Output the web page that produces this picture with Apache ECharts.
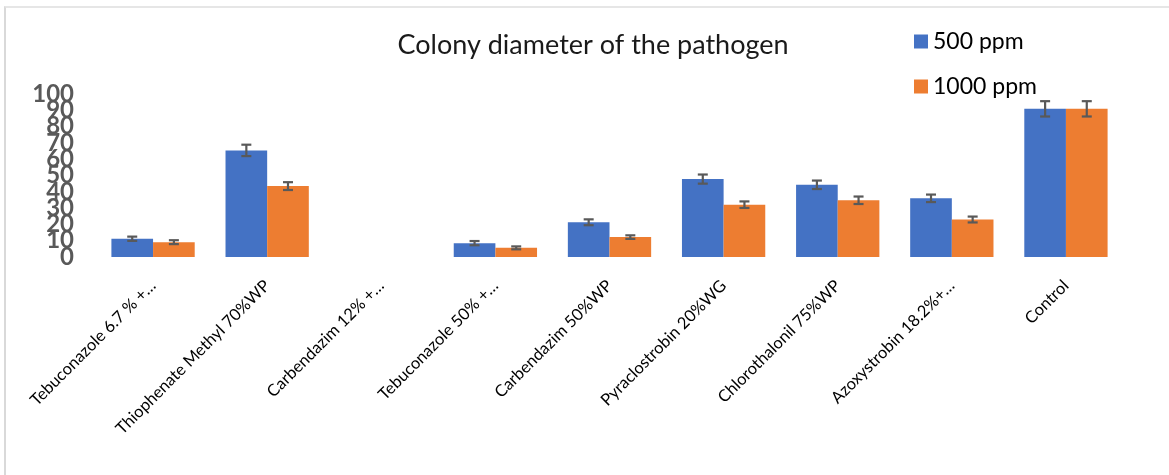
<!DOCTYPE html>
<html>
<head>
<meta charset="utf-8">
<script src="https://cdn.jsdelivr.net/npm/echarts@6/dist/echarts.min.js"></script>
<style>
  html, body { margin: 0; padding: 0; background: #fff; overflow: hidden; }
  #frame { position: absolute; left: 4px; top: 6px; width: 1200px; height: 500px;
           border-left: 2px solid #d9d9d9; border-top: 2px solid #e6e6e6; }
  #chart { position: absolute; left: 0; top: 0; width: 1169px; height: 475px; }
</style>
</head>
<body>
<div id="frame"></div>
<div id="chart"></div>
<script>
const categories = [
  "Tebuconazole 6.7 % +…",
  "Thiophenate Methyl 70%WP",
  "Carbendazim 12% +…",
  "Tebuconazole 50% +…",
  "Carbendazim 50%WP",
  "Pyraclostrobin 20%WG",
  "Chlorothalonil 75%WP",
  "Azoxystrobin 18.2%+…",
  "Control"
];
const ppm500 = [11.2, 65.4, 0, 8.5, 21.3, 47.8, 44.3, 36.0, 90.9];
const ppm1000 = [9.1, 43.5, 0, 5.6, 12.2, 32.1, 34.8, 23.0, 90.9];
const err500 = [1.3, 3.5, 0, 1.3, 1.8, 2.8, 2.6, 2.3, 4.7];
const err1000 = [1.2, 2.4, 0, 0.9, 1.1, 2.0, 2.3, 1.8, 4.7];
// tick labels 0..100, split over two overlapping axes so none gets auto-hidden
const yTicksEven = [0, 20, 40, 60, 80, 100];
const yTicksOdd = [10, 30, 50, 70, 90];

const BLUE = "#4472C4";
const ORANGE = "#ED7D31";
const CATEGORY_GAP = 0.27;
const FONT = "Lato";

function errorSeries(values, errors, side) {
  return {
    type: "custom",
    silent: true,
    z: 10,
    data: values.map((v, i) => [i, v - errors[i], v + errors[i], errors[i]]),
    renderItem(params, api) {
      if (api.value(3) <= 0) {
        return null;
      }
      const band = api.size([1, 0])[0];
      const barW = band * (1 - CATEGORY_GAP) / 2;
      const low = api.coord([api.value(0), api.value(1)]);
      const high = api.coord([api.value(0), api.value(2)]);
      const x = low[0] + side * barW / 2;
      const cap = 5;
      const style = { stroke: "#595959", lineWidth: 2.2 };
      return {
        type: "group",
        children: [
          { type: "line", shape: { x1: x, y1: low[1], x2: x, y2: high[1] }, style },
          { type: "line", shape: { x1: x - cap, y1: low[1], x2: x + cap, y2: low[1] }, style },
          { type: "line", shape: { x1: x - cap, y1: high[1], x2: x + cap, y2: high[1] }, style }
        ]
      };
    }
  };
}

function valueAxis(ticks) {
  return {
    type: "value",
    position: "left",
    min: 0,
    max: 100,
    interval: 10,
    axisLine: { show: false },
    axisTick: { show: false },
    splitLine: { show: false },
    axisLabel: {
      showMinLabel: true,
      showMaxLabel: true,
      hideOverlap: false,
      formatter: (v) => (ticks.includes(v) ? String(v) : ""),
      fontSize: 24,
      fontWeight: "bold",
      color: "#595959",
      margin: 22,
      fontFamily: FONT
    }
  };
}

const chart = echarts.init(document.getElementById("chart"));
chart.setOption({
  animation: false,
  textStyle: { fontFamily: FONT },
  title: {
    text: "Colony diameter of the pathogen",
    left: 588,
    top: 27,
    textAlign: "center",
    textStyle: { fontSize: 27, fontWeight: "normal", color: "#1a1a1a", fontFamily: FONT }
  },
  legend: {
    orient: "vertical",
    left: 909,
    top: 25,
    itemGap: 22,
    itemWidth: 14,
    itemHeight: 14,
    icon: "rect",
    textStyle: { fontSize: 23, color: "#000", fontFamily: FONT },
    data: ["500 ppm", "1000 ppm"]
  },
  grid: { left: 96, right: 46, top: 94, bottom: 218, containLabel: false },
  xAxis: {
    type: "category",
    data: categories,
    axisLine: { show: false },
    axisTick: { show: false },
    axisLabel: {
      rotate: 45,
      interval: 0,
      margin: 26,
      fontSize: 16.5,
      color: "#000",
      fontFamily: FONT
    }
  },
  yAxis: [valueAxis(yTicksEven), valueAxis(yTicksOdd)],
  series: [
    {
      name: "500 ppm",
      type: "bar",
      data: ppm500,
      barGap: "0%",
      barCategoryGap: (CATEGORY_GAP * 100) + "%",
      itemStyle: { color: BLUE }
    },
    {
      name: "1000 ppm",
      type: "bar",
      data: ppm1000,
      barGap: "0%",
      barCategoryGap: (CATEGORY_GAP * 100) + "%",
      itemStyle: { color: ORANGE }
    },
    errorSeries(ppm500, err500, -1),
    errorSeries(ppm1000, err1000, 1)
  ]
});
</script>
</body>
</html>
